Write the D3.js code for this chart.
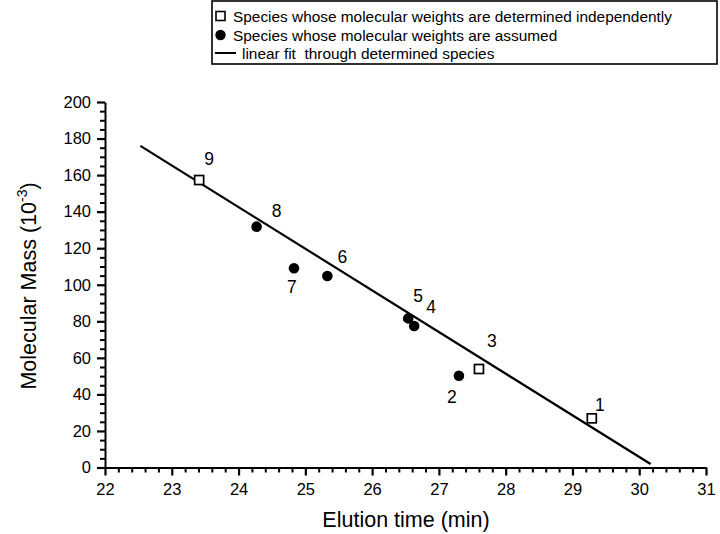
<!DOCTYPE html>
<html>
<head>
<meta charset="utf-8">
<script src="https://cdn.jsdelivr.net/npm/d3@7"></script>
<style>
  html, body { margin: 0; padding: 0; background: #fff; }
  svg { display: block; font-family: "Liberation Sans", Arial, Helvetica, sans-serif; }
</style>
</head>
<body>
<svg id="chart" width="720" height="534"></svg>
<script>
// ---- data ----
const speciesLabels = ["1", "2", "3", "4", "5", "6", "7", "8", "9"];
const elutionTime   = [29.29, 27.30, 27.60, 26.63, 26.54, 25.33, 24.83, 24.27, 23.41];
const molecularMass = [26.9, 50.2, 53.9, 77.4, 81.6, 104.8, 109.0, 131.8, 157.3];
const speciesType   = ["determined", "assumed", "determined", "assumed", "assumed", "assumed", "assumed", "assumed", "determined"];
const fitTime = [22.53, 30.17];
const fitMass = [176.0, 1.9];
const xTicks = [22, 23, 24, 25, 26, 27, 28, 29, 30, 31];
const yTicks = [0, 20, 40, 60, 80, 100, 120, 140, 160, 180, 200];
const legendLabels = [
  "Species whose molecular weights are determined independently",
  "Species whose molecular weights are assumed",
  "linear fit  through determined species"
];

// ---- layout (not data) ----
const labelOffset = {
  "1": [8, -13], "2": [-7, 21], "3": [13, -28], "4": [17, -19], "5": [10, -22],
  "6": [15, -19], "7": [-2, 19], "8": [20, -16], "9": [10, -21]
};

const svg = d3.select("#chart");
const x = d3.scaleLinear().domain([22, 31]).range([105, 706]);
const y = d3.scaleLinear().domain([0, 200]).range([467.5, 102]);

const minorX = d3.range(1, 45).map(i => 22 + i * 0.2).filter((v, i) => (i + 1) % 5 !== 0);
const minorY = d3.range(1, 40).map(i => i * 5).filter(v => v % 20 !== 0);

function styleTicks(g, w) {
  g.selectAll(".tick line").attr("stroke", "#000").attr("stroke-width", w);
}

// minor ticks
const mx = svg.append("g").attr("transform", `translate(0,${y(0)})`)
  .call(d3.axisBottom(x).tickValues(minorX).tickSize(5).tickSizeOuter(0).tickFormat(() => ""));
mx.select(".domain").remove();
styleTicks(mx, 2);
const my = svg.append("g").attr("transform", `translate(${x(22)},0)`)
  .call(d3.axisLeft(y).tickValues(minorY).tickSize(5).tickSizeOuter(0).tickFormat(() => ""));
my.select(".domain").remove();
styleTicks(my, 2);

// major axes
const gx = svg.append("g").attr("transform", `translate(0,${y(0)})`)
  .call(d3.axisBottom(x).tickValues(xTicks).tickSize(8).tickSizeOuter(0).tickPadding(8).tickFormat(d3.format("d")));
const gy = svg.append("g").attr("transform", `translate(${x(22)},0)`)
  .call(d3.axisLeft(y).tickValues(yTicks).tickSize(8).tickSizeOuter(0).tickPadding(6).tickFormat(d3.format("d")));
[gx, gy].forEach(g => {
  g.select(".domain").attr("stroke", "#000").attr("stroke-width", 2);
  styleTicks(g, 2.2);
  g.selectAll(".tick text").attr("fill", "#000").style("font-size", "16.5px")
    .style("font-family", "'Liberation Sans', Arial, sans-serif");
});

// axis titles
svg.append("text").attr("x", 406).attr("y", 527).attr("text-anchor", "middle")
  .style("font-size", "21.5px").attr("fill", "#000").text("Elution time (min)");
const yt = svg.append("text").attr("transform", "translate(36,286) rotate(-90)")
  .attr("text-anchor", "middle").style("font-size", "21.5px").attr("fill", "#000");
yt.append("tspan").text("Molecular Mass (10");
yt.append("tspan").attr("dy", -9).style("font-size", "14px").text("-3");
yt.append("tspan").attr("dy", 9).text(")");

// fit line
svg.append("line")
  .attr("x1", x(fitTime[0])).attr("y1", y(fitMass[0]))
  .attr("x2", x(fitTime[1])).attr("y2", y(fitMass[1]))
  .attr("stroke", "#000").attr("stroke-width", 2.2);

// points
const pts = speciesLabels.map((s, i) => ({ s, t: elutionTime[i], m: molecularMass[i], type: speciesType[i] }));
svg.selectAll("rect.det").data(pts.filter(d => d.type === "determined")).enter().append("rect")
  .attr("class", "det")
  .attr("x", d => x(d.t) - 4.5).attr("y", d => y(d.m) - 4.5)
  .attr("width", 9).attr("height", 9)
  .attr("fill", "#fff").attr("stroke", "#000").attr("stroke-width", 1.7);
svg.selectAll("circle.ass").data(pts.filter(d => d.type === "assumed")).enter().append("circle")
  .attr("class", "ass")
  .attr("cx", d => x(d.t)).attr("cy", d => y(d.m)).attr("r", 5.3).attr("fill", "#000");

svg.selectAll("text.lab").data(pts).enter().append("text")
  .attr("class", "lab")
  .attr("x", d => x(d.t) + labelOffset[d.s][0])
  .attr("y", d => y(d.m) + labelOffset[d.s][1])
  .attr("text-anchor", "middle").attr("dominant-baseline", "central")
  .style("font-size", "17.5px").attr("fill", "#000").text(d => d.s);

// legend
const lg = svg.append("g");
lg.append("rect").attr("x", 212).attr("y", 1).attr("width", 505).attr("height", 63)
  .attr("fill", "#fff").attr("stroke", "#000").attr("stroke-width", 1.6);
const rowY = [16, 35, 53];
lg.append("rect").attr("x", 216).attr("y", rowY[0] - 4.5).attr("width", 9).attr("height", 9)
  .attr("fill", "#fff").attr("stroke", "#000").attr("stroke-width", 1.6);
lg.append("circle").attr("cx", 220.5).attr("cy", rowY[1]).attr("r", 5.2).attr("fill", "#000");
lg.append("line").attr("x1", 215).attr("x2", 236).attr("y1", rowY[2]).attr("y2", rowY[2])
  .attr("stroke", "#000").attr("stroke-width", 2);
lg.selectAll("text.leg").data(legendLabels).enter().append("text")
  .attr("class", "leg")
  .attr("x", (d, i) => i === 2 ? 242 : 233)
  .attr("y", (d, i) => rowY[i]).attr("dominant-baseline", "central")
  .style("font-size", "15.4px").attr("fill", "#000").style("white-space", "pre").text(d => d);
</script>
</body>
</html>
